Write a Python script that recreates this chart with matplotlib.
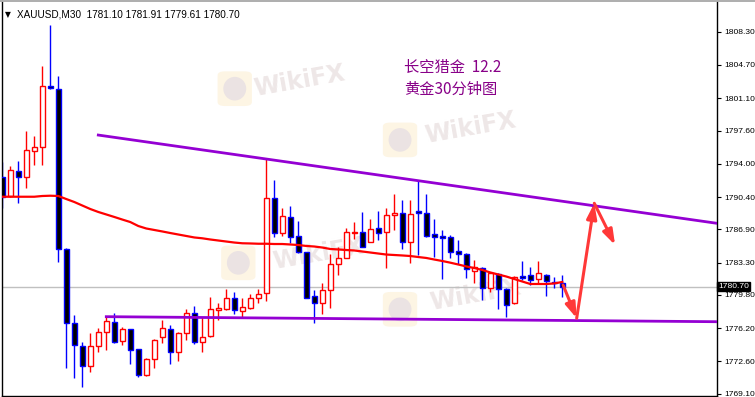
import matplotlib

matplotlib.use("Agg")
import matplotlib.pyplot as plt  # noqa: E402
import numpy as np  # noqa: E402
from matplotlib import font_manager  # noqa: E402
from matplotlib.lines import Line2D  # noqa: E402
from matplotlib.patches import Ellipse, FancyBboxPatch  # noqa: E402

# XAUUSD M30 candles
opens = [1792.60, 1790.51, 1793.22, 1792.60, 1795.41, 1795.78, 1802.42, 1802.10, 1784.74, 1776.73,
         1774.27, 1772.13, 1774.30, 1775.75, 1776.90, 1774.84, 1776.08, 1773.91, 1771.10, 1772.83,
         1775.27, 1776.08, 1773.58, 1775.64, 1777.81, 1774.67, 1775.35, 1778.20, 1778.31, 1779.43,
         1778.09, 1778.35, 1779.43, 1779.97, 1790.26, 1786.47, 1788.24, 1786.18, 1784.41, 1779.68,
         1778.96, 1780.33, 1783.11, 1783.76, 1786.47, 1786.61, 1785.56, 1787.01, 1786.58, 1788.42,
         1788.67, 1785.56, 1788.89, 1788.70, 1786.39, 1786.18, 1786.04, 1784.55, 1784.20, 1782.42,
         1782.75, 1780.58, 1782.03, 1780.44, 1778.89, 1781.85, 1781.96, 1781.49, 1781.92, 1781.23,
         1781.10]
highs = [1794.22, 1793.76, 1794.30, 1797.55, 1797.01, 1804.59, 1809.03, 1803.50, 1784.88, 1777.62,
         1774.73, 1775.67, 1776.22, 1777.44, 1777.81, 1776.29, 1776.11, 1773.94, 1772.97, 1775.03,
         1777.08, 1776.54, 1775.82, 1778.24, 1778.60, 1777.44, 1779.54, 1778.89, 1780.41, 1780.15,
         1779.50, 1779.90, 1780.41, 1794.48, 1792.24, 1789.18, 1789.43, 1787.80, 1784.48, 1780.33,
         1781.06, 1784.23, 1785.02, 1787.08, 1787.73, 1788.81, 1787.99, 1788.89, 1789.24, 1790.73,
         1790.08, 1790.08, 1792.24, 1790.73, 1787.99, 1786.83, 1786.29, 1785.75, 1784.37, 1783.58,
         1782.85, 1782.31, 1782.14, 1780.52, 1781.85, 1783.47, 1782.79, 1783.50, 1782.06, 1781.71,
         1781.91]
lows = [1789.24, 1790.43, 1789.78, 1791.38, 1793.87, 1793.87, 1802.10, 1783.40, 1771.92, 1770.83,
        1769.86, 1771.48, 1773.65, 1773.83, 1774.62, 1774.38, 1772.32, 1770.94, 1771.02, 1771.92,
        1774.56, 1772.29, 1772.68, 1774.92, 1774.45, 1773.65, 1775.21, 1777.08, 1778.17, 1777.73,
        1777.44, 1778.27, 1778.89, 1779.17, 1786.10, 1786.18, 1785.39, 1784.37, 1779.50, 1776.73,
        1777.70, 1778.41, 1781.96, 1783.76, 1785.82, 1785.02, 1785.56, 1785.75, 1782.75, 1786.83,
        1784.77, 1783.29, 1784.12, 1786.04, 1783.94, 1781.49, 1783.76, 1783.15, 1781.60, 1781.06,
        1779.25, 1780.15, 1778.24, 1777.44, 1778.82, 1781.41, 1780.87, 1781.06, 1779.68, 1780.52,
        1779.61]
closes = [1790.43, 1793.32, 1792.60, 1795.49, 1795.78, 1802.42, 1802.17, 1784.74, 1776.73, 1774.38,
          1772.13, 1774.30, 1775.75, 1776.97, 1774.73, 1776.08, 1773.83, 1771.13, 1772.83, 1774.88,
          1776.18, 1773.58, 1775.64, 1777.81, 1774.67, 1775.27, 1778.24, 1778.35, 1779.43, 1778.17,
          1778.46, 1779.43, 1779.87, 1790.26, 1786.47, 1788.34, 1786.10, 1784.48, 1779.50, 1778.96,
          1780.33, 1783.11, 1783.76, 1786.58, 1786.61, 1785.02, 1786.90, 1786.47, 1788.42, 1788.67,
          1785.56, 1788.56, 1788.64, 1786.21, 1786.10, 1785.99, 1784.48, 1784.20, 1782.57, 1782.85,
          1780.58, 1782.14, 1780.41, 1778.71, 1781.77, 1781.66, 1781.41, 1782.14, 1781.31, 1781.12,
          1780.70]
# red moving average
ma = [1790.43, 1790.43, 1790.43, 1790.43, 1790.43, 1790.51, 1790.54, 1790.51, 1790.18, 1789.86,
      1789.48, 1789.10, 1788.78, 1788.51, 1788.24, 1787.96, 1787.69, 1787.26, 1786.99, 1786.83,
      1786.67, 1786.50, 1786.34, 1786.18, 1786.02, 1785.93, 1785.80, 1785.69, 1785.58, 1785.47,
      1785.39, 1785.37, 1785.34, 1785.34, 1785.31, 1785.31, 1785.26, 1785.20, 1785.10, 1785.04,
      1784.93, 1784.77, 1784.72, 1784.66, 1784.61, 1784.50, 1784.39, 1784.28, 1784.17, 1784.12,
      1784.07, 1784.01, 1783.90, 1783.80, 1783.63, 1783.47, 1783.29, 1783.09, 1782.88, 1782.71,
      1782.50, 1782.23, 1782.01, 1781.79, 1781.52, 1781.25, 1780.98, 1780.98, 1780.98, 1781.04,
      1781.20]

# hand-drawn trend lines (bar index, price)
upper_idx = [12, 90]
upper_price = [1797.11, 1787.47]
lower_idx = [13, 90]
lower_price = [1777.44, 1776.89]

# forecast zig-zag arrows
arrow_idx = [70.1, 71.8, 74.0, 76.6]
arrow_price = [1780.87, 1777.27, 1789.72, 1785.20]

last_price = 1780.70
tick_values = [1808.30, 1804.70, 1801.10, 1797.60, 1794.00, 1790.40,
               1786.90, 1783.30, 1779.80, 1776.20, 1772.60, 1769.10]

header = "XAUUSD,M30  1781.10 1781.91 1779.61 1780.70"
note_lines = ["长空猎金  12.2", "黄金30分钟图"]

names = {f.name for f in font_manager.fontManager.ttflist}
small_font = "Liberation Sans Narrow" if "Liberation Sans Narrow" in names else "Liberation Sans"
axis_size = 7 if small_font.endswith("Narrow") else 6.1

fig = plt.figure(figsize=(7.55, 3.97), dpi=100)
ax = fig.add_axes([1.5 / 755, 1 / 397, 715.5 / 755, 394 / 397])
ax.set_xlim(-0.1, 89.34)
ax.set_ylim(1768.85, 1811.52)

x = np.arange(len(opens))
o = np.array(opens)
c = np.array(closes)
bull = c >= o
edge = np.where(bull, "#ff0000", "#0000ff")
face = np.where(bull, "#ffffff", "#000000")

ax.axhline(last_price, color="#c0c0c0", lw=1, zorder=1)

# watermarks
marks = [((0.417, 0.800), (0.326, 0.780)),
         ((0.655, 0.680), (0.557, 0.650)),
         ((0.443, 0.360), (0.331, 0.338)),
         ((0.662, 0.255), (0.557, 0.220))]
for (tx, ty), (lx, ly) in marks:
    ax.add_patch(FancyBboxPatch((lx - 0.024, ly - 0.044), 0.048, 0.088,
                                boxstyle="round,pad=0,rounding_size=0.01",
                                transform=ax.transAxes, facecolor="#fdf3de",
                                edgecolor="none", alpha=0.8, zorder=0.5))
    ax.add_patch(Ellipse((lx, ly), 0.032, 0.06, transform=ax.transAxes,
                         facecolor="#ebe3e3", edgecolor="none", zorder=0.6))
    ax.text(tx, ty, "WikiFX", transform=ax.transAxes, fontsize=17, fontweight="bold",
            color="#eee7e7", ha="center", va="center", rotation=10, zorder=0.6)

ax.vlines(x, lows, highs, colors=edge, lw=1, zorder=2)
ax.bar(x, np.maximum(np.abs(c - o), 0.08), width=0.62, bottom=np.minimum(o, c),
       facecolor=face, edgecolor=edge, linewidth=1, zorder=3)

ax.plot(x, ma, color="#ff0000", lw=1.6, zorder=4)
ax.plot(upper_idx, upper_price, color="#9400d3", lw=2, zorder=4)
ax.plot(lower_idx, lower_price, color="#9400d3", lw=2, zorder=4)

for i in range(len(arrow_idx) - 1):
    ax.annotate("", xy=(arrow_idx[i + 1], arrow_price[i + 1]),
                xytext=(arrow_idx[i], arrow_price[i]),
                arrowprops=dict(arrowstyle="-|>,head_length=0.9,head_width=0.3",
                                color="#ff3838", lw=2.2, shrinkA=0, shrinkB=0),
                zorder=5)

# axis on the right, MT4 style
ax.yaxis.tick_right()
ax.set_yticks(tick_values)
ax.set_yticklabels([f"{v:.2f}" for v in tick_values], fontfamily=small_font)
ax.tick_params(axis="y", labelsize=axis_size, length=3, pad=2, colors="black")
ax.set_xticks([])
for side in ["left", "right", "bottom"]:
    ax.spines[side].set_color("black")
    ax.spines[side].set_linewidth(1)
ax.spines["top"].set_visible(False)
fig.add_artist(Line2D([0, 1], [0.998, 0.998], color="#a0a0a0", lw=1.2))

ax.text(1.0015, last_price, f"{last_price:.2f}", transform=ax.get_yaxis_transform(),
        fontsize=axis_size, fontfamily=small_font, color="white", va="center", ha="left",
        bbox=dict(facecolor="black", edgecolor="black", pad=1.0), zorder=6, clip_on=False)

ax.text(0.0049, 0.9695, "▼", transform=ax.transAxes, fontsize=5.5, va="center",
        ha="left", color="black", family="DejaVu Sans")
ax.text(0.0215, 0.9695, header, transform=ax.transAxes, fontsize=7.2, va="center",
        ha="left", color="black", fontfamily=small_font)

for k, line in enumerate(note_lines):
    ax.text(0.5626, 0.835 - k * 0.056, line, transform=ax.transAxes, fontsize=11,
            color="#880088", va="center", ha="left",
            family=["Noto Sans CJK SC", "DejaVu Sans"])

fig.savefig("out.png", dpi=100)
